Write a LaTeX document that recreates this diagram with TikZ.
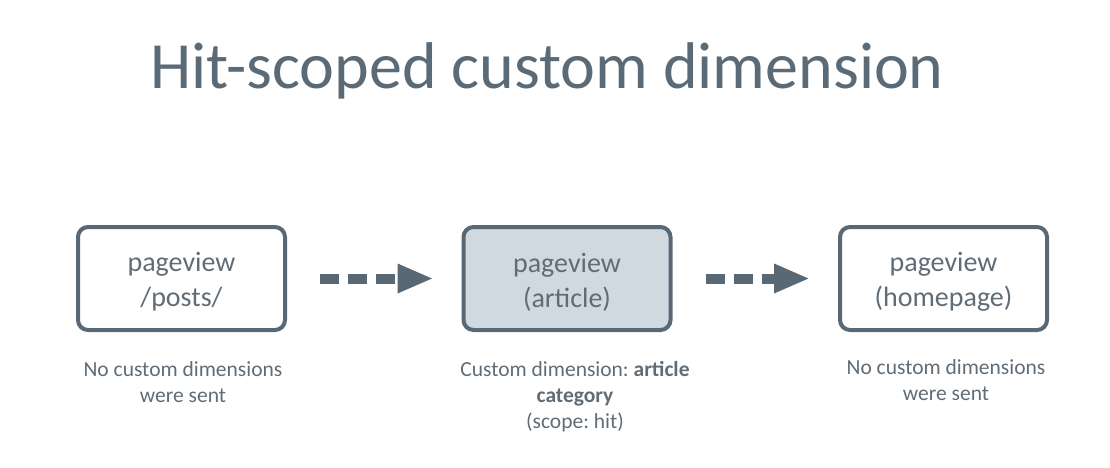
\documentclass[tikz,border=0pt]{standalone}
\usepackage{fontspec}
\setmainfont{Carlito}
\usetikzlibrary{arrows.meta}
\definecolor{titlec}{RGB}{90,106,118}
\definecolor{strokec}{RGB}{88,104,117}
\definecolor{fillc}{RGB}{208,216,224}
\definecolor{textc}{RGB}{96,108,118}
\newcommand{\topstrut}{\rule{0pt}{26pt}}
\tikzset{
  pagebox/.style={draw=strokec, line width=4pt, rounded corners=10pt, minimum width=207pt, minimum height=103pt, align=center, text=textc, font=\fontsize{28}{35}\selectfont, inner sep=0pt},
  caption/.style={align=center, text=textc, font=\frenchspacing\fontsize{21.5}{26}\selectfont, inner sep=0pt, anchor=north},
  flow/.style={draw=strokec, line width=10pt, dash pattern=on 19pt off 9pt, -{Triangle[length=36pt,width=27pt]}, shorten <=33pt, shorten >=28pt}
}
\begin{document}
\begin{tikzpicture}[x=1pt,y=-1pt]
\useasboundingbox (0,0) rectangle (1110,467);
\node[anchor=base, text=titlec, font=\fontsize{66}{76}\selectfont, inner sep=0pt] (title) at (547,88) {Hit-scoped custom dimension};
\node[pagebox] (b1) at (181.5,278.5) {\topstrut pageview\\/posts/};
\node[pagebox, fill=fillc] (b2) at (567,278.5) {\topstrut pageview\\(article)};
\node[pagebox] (b3) at (943.5,278.5) {\topstrut pageview\\(homepage)};
\draw[flow] (b1.east) -- (b2.west);
\draw[flow] (b2.east) -- (b3.west);
\node[caption] (c1) at (183,361) {No custom dimensions\\were sent};
\node[caption] (c2) at (575,361) {Custom dimension: \textbf{article}\\\textbf{category}\\(scope: hit)};
\node[caption] (c3) at (946,359) {No custom dimensions\\were sent};
\end{tikzpicture}
\end{document}
